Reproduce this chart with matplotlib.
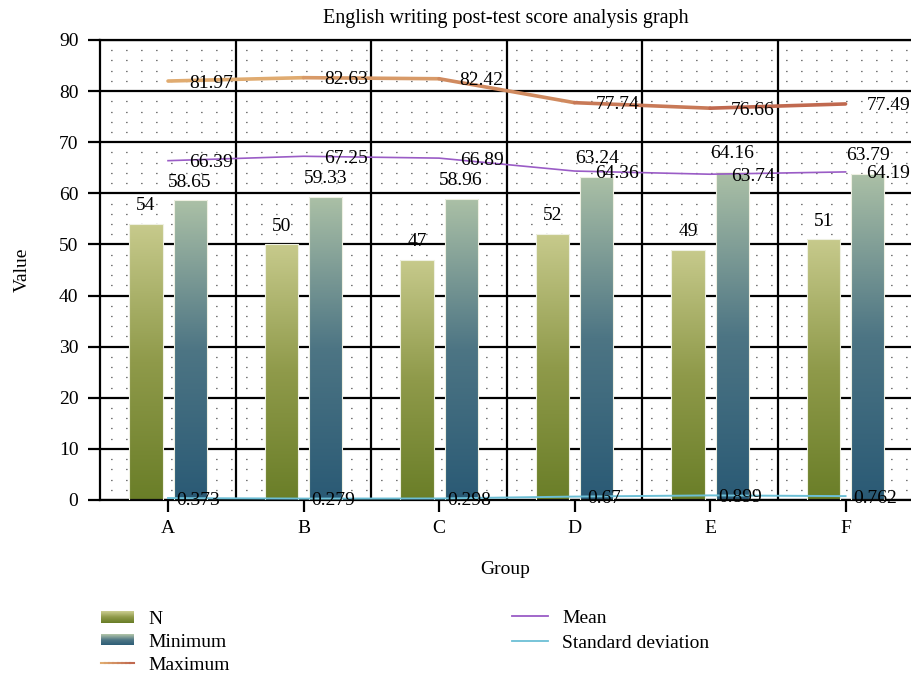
import numpy as np
import matplotlib.pyplot as plt
from matplotlib.colors import LinearSegmentedColormap
from matplotlib.collections import LineCollection
from matplotlib.legend_handler import HandlerBase
from matplotlib.patches import Rectangle
from matplotlib.lines import Line2D
from matplotlib.ticker import MultipleLocator

plt.rcParams['font.family'] = ['Liberation Serif', 'DejaVu Serif']
plt.rcParams['lines.scale_dashes'] = False

groups = ['A', 'B', 'C', 'D', 'E', 'F']
n_vals = [54, 50, 47, 52, 49, 51]
min_vals = [58.65, 59.33, 58.96, 63.24, 64.16, 63.79]
max_vals = [81.97, 82.63, 82.42, 77.74, 76.66, 77.49]
mean_vals = [66.39, 67.25, 66.89, 64.36, 63.74, 64.19]
sd_vals = [0.373, 0.279, 0.298, 0.67, 0.899, 0.762]

# gradient colours (bottom -> top for bars, left -> right for the max line)
n_cmap = LinearSegmentedColormap.from_list('n', ['#6a7e28', '#8f9a4a', '#c7ca8c'])
min_cmap = LinearSegmentedColormap.from_list('mn', ['#2a5a75', '#4d7584', '#abc0a6'])
max_cmap = LinearSegmentedColormap.from_list('mx', ['#e0ab70', '#c0694f'])
mean_color = '#9a5cc6'
sd_color = '#6cbfd6'
FS = 14


class GradientPatchHandler(HandlerBase):
    def __init__(self, cmap, steps=12):
        super().__init__()
        self.cmap = cmap
        self.steps = steps

    def create_artists(self, legend, orig_handle, xdescent, ydescent,
                       width, height, fontsize, trans):
        arts = []
        for i in range(self.steps):
            r = Rectangle((-xdescent, -ydescent + height * i / self.steps),
                          width, height / self.steps + 0.2,
                          facecolor=self.cmap(i / (self.steps - 1)),
                          edgecolor='none', transform=trans)
            arts.append(r)
        return arts


class GradientLineHandler(HandlerBase):
    def __init__(self, cmap, lw=1.5, steps=8):
        super().__init__()
        self.cmap = cmap
        self.lw = lw
        self.steps = steps

    def create_artists(self, legend, orig_handle, xdescent, ydescent,
                       width, height, fontsize, trans):
        arts = []
        y = -ydescent + height / 2
        for i in range(self.steps):
            x0 = -xdescent + width * i / self.steps
            x1 = -xdescent + width * (i + 1) / self.steps
            arts.append(Line2D([x0, x1], [y, y], color=self.cmap(i / (self.steps - 1)),
                               lw=self.lw, transform=trans))
        return arts


fig = plt.figure(figsize=(9.11, 6.84), dpi=100)
ax = fig.add_axes([100 / 911, 1 - 500 / 684, 811 / 911, 460 / 684])

x = np.arange(len(groups))
width = 0.245
off = 0.163


def gradient_bars(xs, heights, cmap):
    bars = ax.bar(xs, heights, width, facecolor='none', edgecolor='#eef0e2',
                  linewidth=0.8, zorder=3)
    grad = np.linspace(1, 0, 256).reshape(-1, 1)
    for b in bars:
        x0, w, h = b.get_x(), b.get_width(), b.get_height()
        im = ax.imshow(grad, extent=(x0, x0 + w, 0, h), cmap=cmap, vmin=0, vmax=1,
                       aspect='auto', origin='upper', zorder=2)
        im.set_clip_path(b)
    return bars


n_bars = gradient_bars(x - off, n_vals, n_cmap)
min_bars = gradient_bars(x + off, min_vals, min_cmap)

# maximum line with a left-to-right colour gradient
pts = np.column_stack([x, max_vals])
segs = np.stack([pts[:-1], pts[1:]], axis=1)
max_lc = LineCollection(segs, colors=max_cmap(np.linspace(0, 1, len(segs))),
                        linewidths=2.6, capstyle='round', joinstyle='round', zorder=4)
ax.add_collection(max_lc)
ax.plot(x, mean_vals, color=mean_color, lw=1.2, zorder=4)
ax.plot(x, sd_vals, color=sd_color, lw=1.4, zorder=4)

# value labels
for xi, v in zip(x - off, n_vals):
    ax.annotate(f'{v}', (xi, v), xytext=(0, 7), textcoords='offset points',
                ha='center', va='bottom', fontsize=FS, zorder=6)
for xi, v in zip(x + off, min_vals):
    ax.annotate(f'{v:g}', (xi, v), xytext=(0, 7), textcoords='offset points',
                ha='center', va='bottom', fontsize=FS, zorder=6)
for vals in (max_vals, mean_vals):
    for xi, v in zip(x, vals):
        ax.text(xi + 0.315, v, f'{v:g}', ha='center', va='center_baseline',
                fontsize=FS, zorder=6)
for xi, v in zip(x, sd_vals):
    ax.text(xi + 0.22, v, f'{v:g}', ha='center', va='center_baseline',
            fontsize=FS, zorder=6)

ax.set_xlim(-0.502, 5.483)
ax.set_ylim(0, 90)
ax.set_xticks(x)
ax.set_xticklabels(groups)
ax.set_yticks(range(0, 91, 10))
ax.yaxis.set_minor_locator(MultipleLocator(2))

ax.set_axisbelow(True)
ax.grid(axis='y', which='major', color='black', lw=1.6)
ax.grid(axis='y', which='minor', color='#333333', lw=0.9, linestyle=(3, (0.8, 10.0)))
ax.vlines(x[:-1] + 0.5, 0, 90, color='black', lw=1.6, zorder=1)

for side in ('left', 'top', 'bottom'):
    ax.spines[side].set_linewidth(1.6)
    ax.spines[side].set_color('black')
ax.spines['right'].set_visible(False)

ax.tick_params(axis='both', which='major', length=8.5, width=1.6, labelsize=FS)
ax.tick_params(axis='y', which='major', pad=7)
ax.tick_params(axis='x', which='major', pad=6)
ax.tick_params(which='minor', length=0)

ax.set_title('English writing post-test score analysis graph', fontsize=FS + 0.5, pad=12)
ax.set_xlabel('Group', fontsize=FS, labelpad=17)
ax.set_ylabel('Value', fontsize=FS, labelpad=20)

# legends
p_n = Rectangle((0, 0), 1, 1)
p_min = Rectangle((0, 0), 1, 1)
fig.legend([p_n, p_min, max_lc], ['N', 'Minimum', 'Maximum'],
           handler_map={p_n: GradientPatchHandler(n_cmap),
                        p_min: GradientPatchHandler(min_cmap),
                        max_lc: GradientLineHandler(max_cmap)},
           loc='upper left', bbox_to_anchor=(101 / 911, 1 - 611 / 684),
           frameon=False, borderpad=0, borderaxespad=0, handlelength=1.7,
           handleheight=0.5, handletextpad=0.72, labelspacing=0.3, fontsize=FS)
fig.legend([Line2D([], [], color=mean_color, lw=1.3),
            Line2D([], [], color=sd_color, lw=1.3)],
           ['Mean', 'Standard deviation'],
           loc='upper left', bbox_to_anchor=(512 / 911, 1 - 609 / 684),
           frameon=False, borderpad=0, borderaxespad=0, handlelength=1.85,
           handletextpad=0.72, labelspacing=0.4, fontsize=FS)

fig.savefig('out.png', dpi=100)
